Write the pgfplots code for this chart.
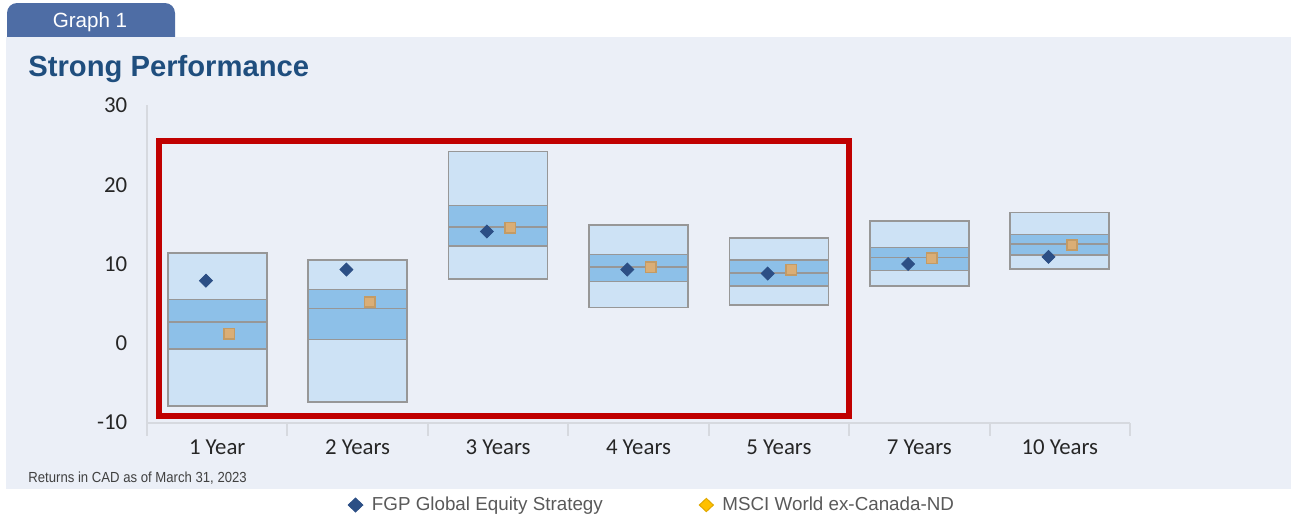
\documentclass[border=0pt]{standalone}
\usepackage{fontspec}
\setmainfont{Liberation Sans}
\newfontfamily\calibri{Carlito}
\newfontfamily\narrow[FakeStretch=0.9]{Liberation Sans}
\usepackage{pgfplots}
\usepackage{pgfplotstable}
\pgfplotsset{compat=1.18}

\definecolor{panel}{HTML}{EBEFF7}
\definecolor{tabblue}{HTML}{4E6DA5}
\definecolor{titleblue}{HTML}{1F4E7E}
\definecolor{boxlight}{HTML}{CDE2F5}
\definecolor{boxdark}{HTML}{8DC0E8}
\definecolor{boxedge}{HTML}{979797}
\definecolor{fgp}{HTML}{2C4F85}
\definecolor{mscifill}{HTML}{DAAE76}
\definecolor{msciedge}{HTML}{C39B65}
\definecolor{mscilegend}{HTML}{FFC000}
\definecolor{msciborder}{HTML}{E0A800}
\definecolor{redbox}{HTML}{C00000}
\definecolor{axisgray}{HTML}{D6D9DF}
\definecolor{labelblack}{HTML}{262626}
\definecolor{footgray}{HTML}{404040}
\definecolor{legendgray}{HTML}{595959}

% ranges: low, quartiles, median, high; then the two return series
\pgfplotstableread{
x lo q1 med q3 hi fgp msci
0 -7.9 -0.7 2.7 5.5 11.4 7.9 1.2
1 -7.4 0.5 4.4 6.8 10.5 9.3 5.2
2 8.1 12.3 14.7 17.4 24.2 14.1 14.6
3 4.5 7.8 9.6 11.2 14.9 9.3 9.6
4 4.8 7.2 8.9 10.5 13.3 8.8 9.3
5 7.2 9.2 10.8 12.1 15.4 10.0 10.7
6 9.4 11.1 12.5 13.7 16.5 10.9 12.4
}\perf

\pgfplotsset{frame/.style={
  at={(73.5pt,-211.3pt)}, anchor=south west,
  scale only axis, width=491.5pt, height=158.6pt,
  xmin=-0.5, xmax=6.5,
  clip=false,
}}

\begin{document}
\begin{tikzpicture}
\begin{scope}[x=0.5pt,y=-0.5pt]
\path[use as bounding box] (0,0) rectangle (1291,516);
\fill[tabblue, rounded corners=5pt] (7,3) rectangle (175,50);
\fill[panel] (6,37) rectangle (1291,489);
\node[anchor=base, text=white, font=\fontsize{10.3}{12}\selectfont] at (90,27.4) {Graph 1};
\node[anchor=base west, inner sep=0pt, text=titleblue, font=\bfseries\fontsize{14.6}{17}\selectfont] at (28,76) {Strong Performance};
\node[anchor=base west, inner sep=0pt, text=footgray, font=\narrow\fontsize{7.3}{9}\selectfont] at (28,482) {Returns in CAD as of March 31, 2023};
\end{scope}

% stacked bars need positive steps, so this axis runs 10 above the returns
\begin{axis}[frame, ymin=0, ymax=40,
  axis x line*=bottom, axis y line*=left,
  axis line style={draw=axisgray, line width=1pt},
  ybar stacked, bar width=0.705,
  xtick={0,...,6},
  xticklabels={1 Year, 2 Years, 3 Years, 4 Years, 5 Years, 7 Years, 10 Years},
  minor xtick={-0.5,0.5,...,6.5},
  major tick length=0pt, minor tick length=6.5pt, tick align=outside,
  tick style={draw=axisgray, line width=1pt},
  ytick={0,10,20,30,40}, yticklabels={-10,0,10,20,30},
  ticklabel style={font=\calibri\fontsize{11.4}{13}\selectfont, text=labelblack},
  xticklabel style={yshift=-4.9pt},
  yticklabel style={xshift=-6.35pt},
]
\addplot[draw=none, fill=none] table[x=x, y expr=\thisrow{lo}+10] {\perf};
\addplot[fill=boxlight, draw=boxedge, line width=0.8pt] table[x=x, y expr=\thisrow{q1}-\thisrow{lo}] {\perf};
\addplot[fill=boxdark, draw=boxedge, line width=0.8pt] table[x=x, y expr=\thisrow{med}-\thisrow{q1}] {\perf};
\addplot[fill=boxdark, draw=boxedge, line width=0.8pt] table[x=x, y expr=\thisrow{q3}-\thisrow{med}] {\perf};
\addplot[fill=boxlight, draw=boxedge, line width=0.8pt] table[x=x, y expr=\thisrow{hi}-\thisrow{q3}] {\perf};
\end{axis}

\begin{axis}[frame, ymin=-10, ymax=30, hide axis,
  legend columns=2,
  legend style={at={(0.1977,-0.2598)}, anchor=west, draw=none, fill=none,
    font=\fontsize{9.4}{11}\selectfont, text=legendgray,
    /tikz/every odd column/.append style={column sep=2.3pt},
    /tikz/every even column/.append style={column sep=46pt}},
]
\addplot[forget plot, only marks, mark=square*, mark size=2.3pt,
  mark options={rotate=45, fill=fgp, draw=fgp}] table[x expr=\thisrow{x}-0.08, y=fgp] {\perf};
\addplot[forget plot, only marks, mark=square*, mark size=2.6pt,
  mark options={fill=mscifill, draw=msciedge, line width=0.8pt}] table[x expr=\thisrow{x}+0.087, y=msci] {\perf};
\addplot[forget plot, redbox, line width=3pt, line join=miter, line cap=rect] coordinates {
  (-0.4145,25.47) (4.499,25.47) (4.499,-9.17) (-0.4145,-9.17) (-0.4145,25.47)};
\addlegendimage{legend image code/.code={\fill[fgp] (-3.7pt,0pt) -- (0pt,3.5pt) -- (3.7pt,0pt) -- (0pt,-3.5pt) -- cycle;}}
\addlegendentry{FGP Global Equity Strategy}
\addlegendimage{legend image code/.code={\filldraw[fill=mscilegend, draw=msciborder, line width=0.5pt] (-3.5pt,0pt) -- (0pt,3.3pt) -- (3.5pt,0pt) -- (0pt,-3.3pt) -- cycle;}}
\addlegendentry{MSCI World ex-Canada-ND}
\end{axis}
\end{tikzpicture}
\end{document}
